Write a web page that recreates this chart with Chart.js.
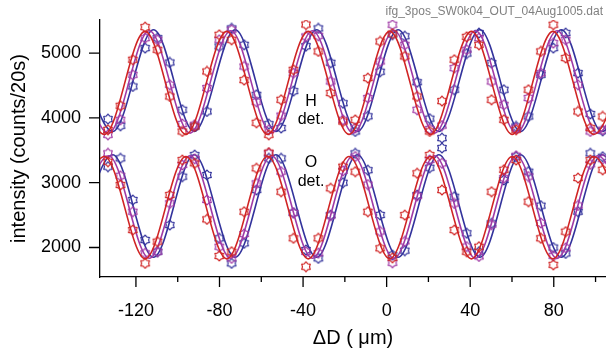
<!DOCTYPE html>
<html><head><meta charset="utf-8">
<script src="https://cdn.jsdelivr.net/npm/chart.js@4.4.1/dist/chart.umd.min.js"></script>
<style>html,body{margin:0;padding:0;background:#fff;overflow:hidden}#wrap{width:606px;height:352px;position:relative}</style>
</head><body><div id="wrap"><canvas id="c" width="606" height="352"></canvas></div>
<script>
// ---- data ----
const xPositions = [-133.4,-127.4,-121.5,-115.6,-109.7,-103.8,-97.8,-91.9,-86.0,-80.1,-74.2,-68.2,-62.3,-56.4,-50.5,-44.6,-38.6,-32.7,-26.8,-20.9,-15.0,-9.0,-3.1,2.8,8.7,14.6,20.6,26.5,32.4,38.3,44.2,50.2,56.1,62.0,67.9,73.8,79.8,85.7,91.6,97.5,103.4];

const hRed    = [3816,4187,4897,5401,5051,4330,3790,3867,4716,5282,5205,4583,3924,3739,4279,4742,5440,5025,4383,3944,3970,4614,5179,5300,4948,4330,3790,4259,4897,5250,5128,4279,3971,3816,4434,5025,5437,4923,4099,3843,4022];
const hPurple = [3739,3971,4665,5231,5205,4511,3906,3894,4460,5205,5360,4793,4248,3816,4035,4691,5256,5267,4562,3971,3843,4306,4870,5437,5128,4125,3828,3881,4768,5051,5230,4562,4202,3843,4306,4691,5154,5205,4511,3790,3817];
const hBlue   = [3981,3878,4485,5077,5231,4855,4125,3867,4099,5103,5380,5128,4356,3903,3843,4413,5106,5380,4850,4226,3790,4025,4712,5285,5260,4550,3988,3688,4434,4993,5309,4846,4434,3867,4022,4665,5077,5309,4691,4060,3800];
const oRed    = [3324,2965,2270,1756,2090,2810,3350,3299,2435,1869,1935,2552,3222,3463,2861,2142,1704,2142,2914,3247,3170,2552,1988,1841,2500,3145,3427,2887,2270,1935,2012,2861,3199,3350,2707,2142,1733,2245,3072,3350,3199];
const oPurple = [3453,3107,2552,1911,1935,2682,3273,3368,2733,2012,1833,2209,2990,3453,3170,2534,1933,1913,2492,3183,3404,2971,2247,1764,2094,2793,3352,3299,2679,2014,1863,2352,3071,3415,3095,2379,1871,1995,2649,3283,3363];
const oBlue   = [3247,3376,2733,2116,1935,2347,3093,3427,3119,2142,1756,2065,2887,3376,3376,2537,1961,1833,2500,3000,3453,3193,2502,1883,1951,2810,3231,3535,2784,2220,1935,2373,3042,3401,3170,2646,2000,1909,2552,3453,3401];

// fitted curves: positions of the extrema (peaks / troughs)
const redFitX    = [-154.7,-135.1,-115.6,-96.1,-76.5,-57.0,-37.5,-18.0,1.5,21.0,40.6,60.1,79.6,99.1,118.7];
const purpleFitX = [-152.6,-133.1,-113.6,-94.1,-74.6,-55.1,-35.5,-16.0,3.5,23.0,42.5,62.1,81.6,101.1,120.6];
const blueFitX   = [-150.6,-131.1,-111.6,-92.1,-72.5,-53.0,-33.5,-14.0,5.5,25.0,44.6,64.1,83.6,103.1,122.7];
const hRedFitY    = [5335,3745,5335,3745,5335,3745,5335,3745,5335,3745,5335,3745,5335,3745,5335];
const hPurpleFitY = [5345,3765,5345,3765,5345,3765,5345,3765,5345,3765,5345,3765,5345,3765,5345];
const hBlueFitY   = [5360,3790,5360,3790,5360,3790,5360,3790,5360,3790,5360,3790,5360,3790,5360];
const oRedFitY    = [1825,3405,1825,3405,1825,3405,1825,3405,1825,3405,1825,3405,1825,3405,1825];
const oPurpleFitY = [1835,3415,1835,3415,1835,3415,1835,3415,1835,3415,1835,3415,1835,3415,1835];
const oBlueFitY   = [1850,3430,1850,3430,1850,3430,1850,3430,1850,3430,1850,3430,1850,3430,1850];

const xTickValues = [-120,-100,-80,-60,-40,-20,0,20,40,60,80,100];
const yTickValues = [2000,3000,4000,5000];
const fileName = 'ifg_3pos_SW0k04_OUT_04Aug1005.dat';

// ---- styling ----
const RED = '#d02424', PURPLE = '#a03aa6', BLUE = '#33339c';
const FONT = '"Liberation Sans", Arial, Helvetica, sans-serif';

function hexagram(color){
  const c = document.createElement('canvas');
  c.width = 12; c.height = 12;
  const g = c.getContext('2d');
  g.strokeStyle = color; g.lineWidth = 1.2;
  g.beginPath();
  for (let i = 0; i < 12; i++) {
    const r = i % 2 === 0 ? 4.9 : 3.5;
    const a = -Math.PI/2 + i*Math.PI/6;
    const px = 6 + r*Math.cos(a), py = 6 + r*Math.sin(a);
    if (i) g.lineTo(px, py); else g.moveTo(px, py);
  }
  g.closePath(); g.stroke();
  return c;
}
const pts = (xs, ys) => xs.map((x, i) => ({x, y: ys[i]}));
function pointSet(ys, color){
  return {data: pts(xPositions, ys), showLine:false, pointStyle: hexagram(color), pointRadius:5, borderColor: color};
}
function fitSet(xs, ys, color){
  return {data: pts(xs, ys), showLine:true, pointRadius:0, borderColor: color, borderWidth:1.6,
          cubicInterpolationMode:'monotone', fill:false};
}

const decor = {
  id:'decor',
  afterDraw(chart){
    const {ctx, chartArea:a, scales:{x, y}} = chart;
    ctx.save();
    ctx.strokeStyle = '#000'; ctx.lineWidth = 1.3;
    ctx.beginPath();
    xTickValues.forEach(v => { const p = x.getPixelForValue(v); const L = (v % 40 === 0) ? 10 : 5; ctx.moveTo(p, a.bottom); ctx.lineTo(p, a.bottom + L); });
    yTickValues.forEach(v => { const p = y.getPixelForValue(v); ctx.moveTo(a.left, p); ctx.lineTo(a.left - 11, p); });
    ctx.stroke();
    ctx.fillStyle = '#000'; ctx.font = '16px ' + FONT; ctx.textAlign = 'center'; ctx.textBaseline = 'middle';
    ctx.fillText('H', 311, 102); ctx.fillText('det.', 311, 120);
    ctx.fillText('O', 311, 163); ctx.fillText('det.', 311, 182);
    ctx.fillStyle = '#808080'; ctx.font = '12px ' + FONT; ctx.textAlign = 'right'; ctx.textBaseline = 'alphabetic';
    ctx.fillText(fileName, 603, 15);
    ctx.restore();
  }
};

new Chart(document.getElementById('c'), {
  type:'scatter',
  data:{datasets:[
    pointSet(hRed, RED), pointSet(oRed, RED),
    fitSet(redFitX, hRedFitY, RED), fitSet(redFitX, oRedFitY, RED),
    pointSet(hPurple, PURPLE), pointSet(oPurple, PURPLE),
    fitSet(purpleFitX, hPurpleFitY, PURPLE), fitSet(purpleFitX, oPurpleFitY, PURPLE),
    pointSet(hBlue, BLUE), pointSet(oBlue, BLUE),
    fitSet(blueFitX, hBlueFitY, BLUE), fitSet(blueFitX, oBlueFitY, BLUE)
  ]},
  options:{
    responsive:false, animation:false, events:[],
    layout:{autoPadding:false, padding:{top:20, right:0, left:0, bottom:0}},
    plugins:{legend:{display:false}, tooltip:{enabled:false}},
    scales:{
      x:{type:'linear', min:-137.2, max:105,
        afterBuildTicks: s => { s.ticks = xTickValues.map(v => ({value:v})); },
        afterFit: s => { s.height = 75; s.paddingLeft = 0; s.paddingRight = 0; },
        grid:{display:false, drawTicks:false},
        border:{display:true, color:'#000', width:1.3},
        ticks:{color:'#000', font:{family:FONT, size:18}, padding:23, maxRotation:0, autoSkip:false,
               callback: v => (v % 40 === 0 ? String(v) : '')},
        title:{display:true, text:'\u0394D ( \u03bcm)', color:'#000', font:{family:FONT, size:20}, padding:{top:0, bottom:1.5}}
      },
      y:{type:'linear', min:1545, max:5510,
        afterBuildTicks: s => { s.ticks = yTickValues.map(v => ({value:v})); },
        afterFit: s => { s.width = 100; s.paddingTop = 0; s.paddingBottom = 0; },
        grid:{display:false, drawTicks:false},
        border:{display:true, color:'#000', width:1.3},
        ticks:{color:'#000', font:{family:FONT, size:18}, padding:19, autoSkip:false,
               callback: v => String(v)},
        title:{display:true, text:'intensity (counts/20s)', color:'#000', font:{family:FONT, size:20}, padding:{top:7.5, bottom:0}}
      }
    }
  },
  plugins:[decor]
});
</script></body></html>
